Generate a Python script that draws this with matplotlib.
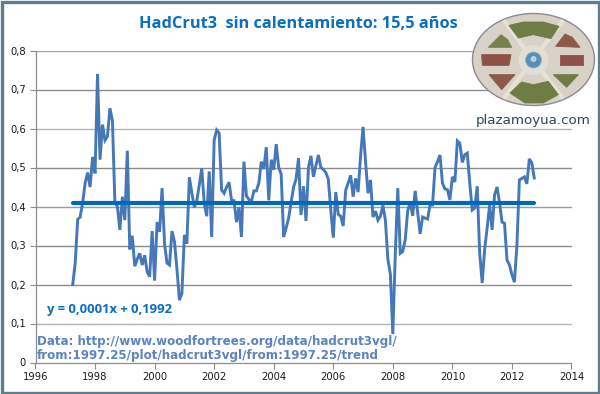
import numpy as np
import matplotlib.pyplot as plt
from matplotlib.patches import Circle, Ellipse, Polygon, Rectangle

# HadCrut3 monthly anomaly, starting 1997.25
anomaly = [
    .20, .255, .367, .373, .41, .46, .487, .45, .527, .485, .74, .52,
    .61, .57, .58, .652, .62, .41, .40, .34, .425, .365, .543, .29,
    .325, .247, .265, .28, .25, .275, .232, .22, .337, .21, .36, .335,
    .447, .305, .255, .25, .337, .31, .24, .16, .178, .327, .305, .475,
    .435, .398, .415, .455, .498, .408, .375, .49, .322, .57, .596, .588,
    .442, .434, .45, .462, .416, .415, .36, .398, .322, .515, .427, .418,
    .412, .44, .44, .46, .515, .496, .552, .416, .52, .494, .56, .50,
    .483, .322, .345, .37, .41, .45, .47, .524, .378, .452, .363, .50,
    .53, .476, .505, .532, .50, .495, .487, .47, .39, .32, .437, .38,
    .375, .35, .442, .46, .48, .425, .472, .437, .53, .604, .515, .434,
    .468, .373, .388, .365, .375, .403, .365, .265, .227, .073, .28, .447,
    .28, .285, .315, .39, .41, .376, .44, .385, .33, .373, .37, .368,
    .404, .404, .50, .515, .532, .46, .445, .443, .417, .476, .463, .568,
    .562, .513, .533, .537, .46, .391, .396, .452, .28, .204, .29, .345,
    .404, .34, .43, .45, .41, .36, .357, .263, .25, .225, .206, .30,
    .468, .472, .476, .458, .522, .512, .473,
]
years = 1997.25 + np.arange(len(anomaly)) / 12

trend_x = [1997.25, 2012.75]
trend_y = [0.41, 0.41]

x_ticks = [1996, 1998, 2000, 2002, 2004, 2006, 2008, 2010, 2012, 2014]
y_ticks = [0, 0.1, 0.2, 0.3, 0.4, 0.5, 0.6, 0.7, 0.8]
y_labels = ["0", "0,1", "0,2", "0,3", "0,4", "0,5", "0,6", "0,7", "0,8"]
grid_colors = ["#8c8c8c", "#b4b4b4", "#8c8c8c", "#8c8c8c", "#9a9a9a",
               "#8c8c8c", "#b4b4b4", "#8c8c8c", "#a8a8a8"]

W, H = 600, 394
fig = plt.figure(figsize=(W / 100, H / 100), dpi=100, facecolor="white")
ax = fig.add_axes([35.5 / W, 1 - 362.5 / H, 536 / W, 312 / H])

for val, col in zip(y_ticks[1:], grid_colors[1:]):
    ax.axhline(val, color=col, lw=1.0, zorder=1)

ax.plot(years, anomaly, color="#4478b8", lw=2.1, solid_joinstyle="miter", zorder=3)
ax.plot(trend_x, trend_y, color="#0068b8", lw=3.0, solid_capstyle="round", zorder=4)

ax.set_xlim(1996, 2014)
ax.set_ylim(0, 0.8)
ax.set_xticks(x_ticks)
ax.set_yticks(y_ticks)
ax.set_yticklabels(y_labels)
ax.tick_params(axis="both", length=4, width=0.8, color="#8c8c8c",
               labelsize=7.2, labelcolor="#1a1a1a", pad=3)
for side in ["top", "right"]:
    ax.spines[side].set_visible(False)
for side in ["left", "bottom"]:
    ax.spines[side].set_color("#8c8c8c")
    ax.spines[side].set_linewidth(0.9)

# overlay in pixel coordinates for the frame, texts and logo
ov = fig.add_axes([0, 0, 1, 1], zorder=5)
ov.set_xlim(0, W)
ov.set_ylim(H, 0)
ov.axis("off")

ov.add_patch(Rectangle((1.5, 1.5), W - 3, H - 3, fill=False, ec="#5b7e90", lw=2.4, zorder=6))

ov.text(298.5, 24, "HadCrut3  sin calentamiento: 15,5 años", color="#0a6fc2",
        fontsize=11.8, fontweight="bold", family="Open Sans", ha="center", va="center")
ov.text(47, 309, "y = 0,0001x + 0,1992", color="#0a6fc2", fontsize=9.4,
        fontweight="bold", family="Open Sans", ha="left", va="center")
ov.text(37, 341, "Data: http://www.woodfortrees.org/data/hadcrut3vgl/", color="#5b84c0",
        fontsize=8.6, fontweight="bold", family="DejaVu Sans", ha="left", va="center")
ov.text(37, 356, "from:1997.25/plot/hadcrut3vgl/from:1997.25/trend", color="#5b84c0",
        fontsize=8.6, fontweight="bold", family="DejaVu Sans", ha="left", va="center")

# plazamoyua logo, zoom coordinates (465 + x / 3, 8 + y / 3)
def logo_poly(points, color):
    pts = [(465 + x / 3, 8 + y / 3) for x, y in points]
    ov.add_patch(Polygon(pts, closed=True, fc=color, ec=color, lw=0.6, zorder=3))

ov.add_patch(Ellipse((533.5, 59.5), 122, 92, fc="#d8d1c6", ec="#8d8896", lw=1.0, zorder=1))
for x1, y1, x2, y2 in [(533, 60, 505, 22), (533, 60, 562, 22), (533, 60, 505, 97), (533, 60, 562, 97)]:
    ov.plot([x1, x2], [y1, y2], color="#e6e2d4", lw=3, zorder=2)
logo_poly([(132, 52), (175, 42), (235, 42), (282, 55), (258, 92), (205, 80), (160, 90)], "#6f7c45")
logo_poly([(135, 255), (170, 222), (205, 230), (250, 220), (280, 260), (235, 285), (180, 285)], "#6f7c45")
logo_poly([(70, 118), (108, 80), (128, 95), (140, 118)], "#78804f")
logo_poly([(272, 115), (300, 78), (322, 88), (345, 118)], "#8d5a4a")
logo_poly([(50, 140), (138, 140), (132, 172), (52, 172)], "#8d5148")
logo_poly([(285, 140), (355, 140), (355, 172), (285, 172)], "#8d5148")
logo_poly([(72, 200), (150, 200), (110, 245)], "#8d5a4a")
logo_poly([(265, 200), (340, 200), (305, 238)], "#6f7c45")
ov.add_patch(Circle((533.5, 60), 15, fc="#e2ddd6", ec="none", zorder=4))
ov.add_patch(Circle((533.5, 60), 8, fc="#5b8db5", ec="#9db4c6", lw=0.6, zorder=5))
ov.add_patch(Circle((533.5, 59), 3, fc="#b5d2e8", ec="none", zorder=5))
ov.text(533.5, 120, "plazamoyua.com", color="#2b4654", fontsize=9.6,
        family="DejaVu Sans", ha="center", va="center")

fig.savefig("out.png", dpi=100)
